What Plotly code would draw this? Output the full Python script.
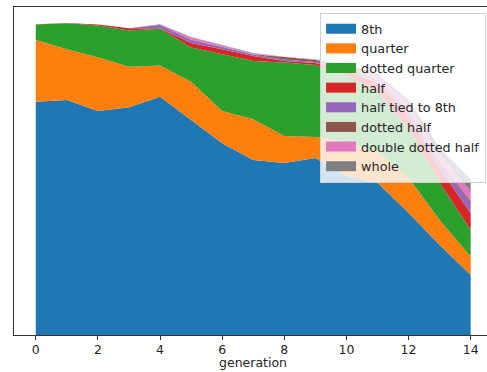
import plotly.graph_objects as go

# Share of each rhythmic value per generation (stacked)
generation = list(range(15))

series_names = [
    "8th", "quarter", "dotted quarter", "half",
    "half tied to 8th", "dotted half", "double dotted half", "whole",
]

eighth = [0.747, 0.752, 0.717, 0.729, 0.763, 0.688, 0.614, 0.560, 0.551, 0.567,
          0.509, 0.487, 0.391, 0.288, 0.192]
quarter = [0.197, 0.163, 0.172, 0.130, 0.100, 0.123, 0.103, 0.131, 0.086, 0.067,
           0.109, 0.099, 0.112, 0.080, 0.059]
dotted_quarter = [0.050, 0.083, 0.102, 0.116, 0.117, 0.109, 0.182, 0.186, 0.235, 0.230,
                  0.214, 0.192, 0.160, 0.119, 0.085]
half = [0.001, 0.001, 0.003, 0.007, 0.002, 0.015, 0.016, 0.016, 0.005, 0.007,
        0.016, 0.029, 0.038, 0.048, 0.054]
half_tied_8th = [0.000, 0.000, 0.000, 0.000, 0.010, 0.009, 0.007, 0.005, 0.005, 0.003,
                 0.007, 0.009, 0.016, 0.016, 0.033]
dotted_half = [0.000, 0.000, 0.000, 0.000, 0.002, 0.002, 0.001, 0.001, 0.008, 0.006,
               0.003, 0.003, 0.003, 0.006, 0.006]
double_dotted_half = [0.000, 0.000, 0.000, 0.000, 0.001, 0.008, 0.004, 0.002, 0.001, 0.002,
                      0.006, 0.010, 0.019, 0.019, 0.032]
whole = [0.000, 0.000, 0.000, 0.000, 0.000, 0.000, 0.001, 0.002, 0.000, 0.001,
         0.003, 0.006, 0.013, 0.023, 0.038]

series_values = [eighth, quarter, dotted_quarter, half,
                 half_tied_8th, dotted_half, double_dotted_half, whole]

colors = ["#1f77b4", "#ff7f0e", "#2ca02c", "#d62728",
          "#9467bd", "#8c564b", "#e377c2", "#7f7f7f"]

x_ticks = [0, 2, 4, 6, 8, 10, 12, 14]

fig = go.Figure()
# stacked areas
for name, vals, col in zip(series_names, series_values, colors):
    fig.add_trace(go.Scatter(
        x=generation, y=vals, name=name,
        mode="lines", stackgroup="one",
        line=dict(width=0, color=col),
        fillcolor=col,
        showlegend=False,
        hoverinfo="skip",
    ))
# legend patches (thick line swatches)
for name, col in zip(series_names, colors):
    fig.add_trace(go.Scatter(
        x=[None], y=[None], name=name, mode="lines",
        line=dict(width=10, color=col),
        showlegend=True, hoverinfo="skip",
    ))

font = dict(family="DejaVu Sans", size=12.5, color="#262626")
legend_font = dict(family="DejaVu Sans", size=12.8, color="#262626")

fig.update_layout(
    width=487, height=372,
    margin=dict(l=14, r=0, t=7, b=37),
    paper_bgcolor="white", plot_bgcolor="white",
    font=font,
    showlegend=True,
    legend=dict(
        x=0.998, y=0.982, xanchor="right", yanchor="top",
        bgcolor="rgba(255,255,255,0.8)", bordercolor="#d0d0d0", borderwidth=1,
        traceorder="normal", font=legend_font, tracegroupgap=0,
    ),
    xaxis=dict(
        range=[-0.7, 14.525], tickvals=x_ticks, ticktext=[str(t) for t in x_ticks],
        showgrid=False, zeroline=False,
        showline=True, linecolor="#333333", linewidth=1, mirror=True,
        ticks="outside", ticklen=3.5, tickcolor="#333333",
        ticklabelstandoff=-1, tickfont=font,
    ),
    yaxis=dict(
        range=[0, 1.05], showgrid=False, zeroline=False,
        showline=True, linecolor="#333333", linewidth=1,
        showticklabels=False, ticks="",
    ),
    annotations=[dict(
        text="generation", xref="x", yref="paper",
        x=7, y=-0.1128, xanchor="center", yanchor="bottom",
        showarrow=False, font=font,
    )],
)

fig.write_html("out.html")
